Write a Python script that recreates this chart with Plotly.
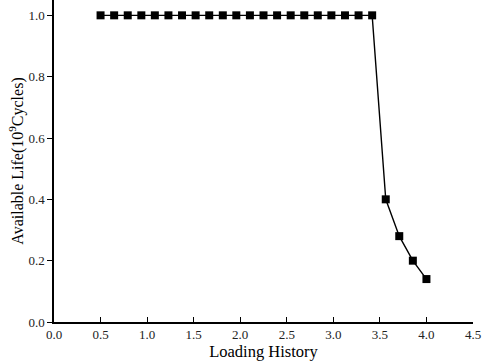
import plotly.graph_objects as go

loading_history = [0.5, 0.646, 0.792, 0.938, 1.083, 1.229, 1.375, 1.521, 1.667, 1.813,
                   1.958, 2.104, 2.25, 2.396, 2.542, 2.688, 2.833, 2.979, 3.125, 3.271,
                   3.417, 3.563, 3.708, 3.854, 4.0]
available_life = [1.0] * 21 + [0.40, 0.28, 0.20, 0.14]

x_ticks = [0.0, 0.5, 1.0, 1.5, 2.0, 2.5, 3.0, 3.5, 4.0, 4.5]
y_ticks = [0.0, 0.2, 0.4, 0.6, 0.8, 1.0]

font = "Liberation Serif"

fig = go.Figure(go.Scatter(
    x=loading_history, y=available_life, mode="lines+markers",
    line=dict(color="black", width=1.4),
    marker=dict(symbol="square", size=8, color="black"),
))

fig.update_layout(
    width=482, height=364,
    margin=dict(l=54, r=9, t=0, b=42),
    plot_bgcolor="white", paper_bgcolor="white",
    showlegend=False,
    font=dict(family=font, color="black", size=13),
)
fig.update_xaxes(
    range=[0, 4.5], tickvals=x_ticks, ticktext=[f"{v:.1f}" for v in x_ticks],
    showline=True, linecolor="black", linewidth=1.5, showgrid=False, zeroline=False,
    ticks="inside", ticklen=5, tickwidth=1, tickcolor="black", automargin=False,
    title=dict(text="Loading History", font=dict(size=16.5, family=font), standoff=4),
    tickfont=dict(size=13, family=font, color="#222"),
)
fig.update_yaxes(
    range=[0, 1.05], tickvals=y_ticks, ticktext=[f"{v:.1f}" for v in y_ticks],
    showline=True, linecolor="black", linewidth=1.5, showgrid=False, zeroline=False,
    ticks="outside", ticklen=5, tickwidth=1, tickcolor="black", automargin=False,
    title=dict(text="Available Life(10<sup>9</sup>Cycles)", font=dict(size=16, family=font), standoff=1),
    tickfont=dict(size=13, family=font, color="#222"),
)

fig.write_html("out.html", config={"displayModeBar": False},
               post_script="document.body.style.margin='0';")
